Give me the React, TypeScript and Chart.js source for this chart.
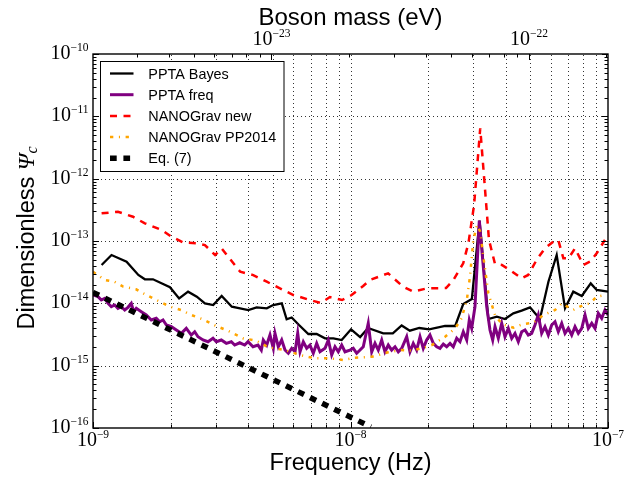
import { useEffect, useRef } from "react";
import { Chart, registerables } from "chart.js";

Chart.register(...registerables);

// ---------- data ----------
const seriesLabels = ["PPTA Bayes", "PPTA freq", "NANOGrav new", "NANOGrav PP2014", "Eq. (7)"];

const bayesFreq = [1.08e-9, 1.18e-9, 1.35e-9, 1.5e-9, 1.59e-9, 1.71e-9, 1.99e-9, 2.16e-9, 2.34e-9, 2.53e-9,
  2.72e-9, 2.93e-9, 3.16e-9, 3.46e-9, 4.01e-9, 4.32e-9, 4.73e-9, 5.01e-9, 5.41e-9, 5.65e-9,
  5.91e-9, 6.31e-9, 6.86e-9, 7.39e-9, 7.96e-9, 8.58e-9, 9.24e-9, 1.005e-8, 1.09e-8, 1.17e-8,
  1.34e-8, 1.46e-8, 1.58e-8, 1.7e-8, 1.85e-8, 2.02e-8, 2.33e-8, 2.55e-8, 2.74e-8, 2.96e-8,
  3.17e-8, 3.43e-8, 3.7e-8, 3.98e-8, 4.29e-8, 4.62e-8, 4.98e-8, 5.44e-8, 5.87e-8, 6.32e-8,
  6.81e-8, 7.33e-8, 7.91e-8, 8.57e-8, 9.04e-8, 1.0e-7];
const bayesPsi = [4.12e-14, 5.96e-14, 4.66e-14, 2.85e-14, 2.43e-14, 2.43e-14, 1.81e-14, 1.2e-14, 1.54e-14, 1.28e-14,
  1.0e-14, 9.4e-15, 1.31e-14, 8.83e-15, 7.81e-15, 8.63e-15, 8.32e-15, 9.4e-15, 1.0e-14, 5.54e-15,
  5.92e-15, 4.49e-15, 3.22e-15, 3.22e-15, 2.75e-15, 2.75e-15, 2.58e-15, 3.83e-15, 2.88e-15, 4.02e-15,
  3.3e-15, 3.3e-15, 4.41e-15, 3.64e-15, 4.02e-15, 3.83e-15, 4.33e-15, 4.33e-15, 9.75e-15, 1.17e-14,
  2.12e-13, 5.6e-15, 6.1e-15, 5.6e-15, 6.92e-15, 7.62e-15, 8.63e-15, 5.6e-15, 2.22e-14, 5.96e-14,
  8.32e-15, 1.54e-14, 1.31e-14, 2.09e-14, 1.64e-14, 1.54e-14];

const freqFreq = [1.0e-9, 1.046e-9, 1.077e-9, 1.11e-9, 1.144e-9, 1.178e-9, 1.214e-9, 1.25e-9, 1.288e-9, 1.328e-9,
  1.367e-9, 1.408e-9, 1.439e-9, 1.473e-9, 1.54e-9, 1.61e-9, 1.684e-9, 1.761e-9, 1.816e-9, 1.87e-9,
  1.927e-9, 2.015e-9, 2.107e-9, 2.203e-9, 2.303e-9, 2.408e-9, 2.483e-9, 2.557e-9, 2.674e-9, 2.797e-9,
  2.924e-9, 3.012e-9, 3.15e-9, 3.294e-9, 3.444e-9, 3.55e-9, 3.713e-9, 3.882e-9, 4.0e-9, 4.182e-9,
  4.373e-9, 4.504e-9, 4.585e-9, 4.727e-9, 4.868e-9, 5.014e-9, 5.09e-9, 5.243e-9, 5.405e-9, 5.567e-9,
  5.734e-9, 5.912e-9, 6.09e-9, 6.237e-9, 6.367e-9, 6.557e-9, 6.759e-9, 6.961e-9, 7.17e-9, 7.391e-9,
  7.612e-9, 7.962e-9, 8.2e-9, 8.453e-9, 8.707e-9, 8.967e-9, 9.244e-9, 9.52e-9, 9.954e-9, 1.025e-8,
  1.057e-8, 1.089e-8, 1.121e-8, 1.172e-8, 1.209e-8, 1.245e-8, 1.282e-8, 1.322e-8, 1.361e-8, 1.402e-8,
  1.445e-8, 1.489e-8, 1.533e-8, 1.581e-8, 1.653e-8, 1.702e-8, 1.753e-8, 1.807e-8, 1.862e-8, 1.917e-8,
  1.976e-8, 2.035e-8, 2.097e-8, 2.162e-8, 2.226e-8, 2.293e-8, 2.363e-8, 2.435e-8, 2.507e-8, 2.585e-8,
  2.662e-8, 2.742e-8, 2.827e-8, 2.893e-8, 2.956e-8, 3.044e-8, 3.164e-8, 3.279e-8, 3.38e-8, 3.481e-8,
  3.566e-8, 3.641e-8, 3.75e-8, 3.866e-8, 3.981e-8, 4.1e-8, 4.227e-8, 4.353e-8, 4.484e-8, 4.622e-8,
  4.76e-8, 4.902e-8, 5.054e-8, 5.205e-8, 5.36e-8, 5.526e-8, 5.692e-8, 5.863e-8, 6.044e-8, 6.225e-8,
  6.412e-8, 6.61e-8, 6.808e-8, 7.012e-8, 7.228e-8, 7.445e-8, 7.669e-8, 7.906e-8, 8.143e-8, 8.387e-8,
  8.646e-8, 8.905e-8, 9.17e-8, 9.452e-8, 9.734e-8, 1.0e-7];
const freqPsi = [1.36e-14, 1.28e-14, 1.13e-14, 1.2e-14, 1.0e-14, 8.83e-15, 9.4e-15, 8.32e-15, 8.83e-15, 7.81e-15,
  8.63e-15, 1.0e-14, 7.34e-15, 8.32e-15, 7.34e-15, 6.5e-15, 5.4e-15, 5.75e-15, 5.07e-15, 5.4e-15,
  4.49e-15, 4.22e-15, 3.73e-15, 3.3e-15, 3.97e-15, 3.1e-15, 3.5e-15, 2.91e-15, 2.58e-15, 2.42e-15,
  2.75e-15, 2.42e-15, 2.58e-15, 2.28e-15, 2.42e-15, 2.14e-15, 2.33e-15, 2.14e-15, 2.42e-15, 2.01e-15,
  2.14e-15, 1.78e-15, 2.58e-15, 2.14e-15, 3.1e-15, 1.9e-15, 3.3e-15, 2.01e-15, 2.58e-15, 1.78e-15,
  1.58e-15, 1.9e-15, 1.67e-15, 3.3e-15, 1.67e-15, 2.42e-15, 1.9e-15, 2.14e-15, 1.58e-15, 2.28e-15,
  1.67e-15, 1.9e-15, 2.58e-15, 1.48e-15, 2.01e-15, 1.67e-15, 2.14e-15, 1.67e-15, 1.78e-15, 1.9e-15,
  1.58e-15, 1.78e-15, 2.01e-15, 4.78e-15, 1.67e-15, 2.28e-15, 1.78e-15, 2.58e-15, 1.67e-15, 2.14e-15,
  1.78e-15, 2.01e-15, 1.67e-15, 1.9e-15, 2.91e-15, 1.67e-15, 2.28e-15, 1.78e-15, 2.91e-15, 1.9e-15,
  2.58e-15, 3.1e-15, 2.28e-15, 2.01e-15, 1.9e-15, 2.22e-15, 2.01e-15, 2.28e-15, 2.01e-15, 2.75e-15,
  2.42e-15, 3.5e-15, 2.58e-15, 5.4e-15, 3.97e-15, 8.83e-15, 2.12e-13, 3.87e-14, 8.83e-15, 3.73e-15,
  2.58e-15, 4.22e-15, 2.75e-15, 4.78e-15, 2.91e-15, 3.97e-15, 2.75e-15, 3.3e-15, 2.42e-15, 3.5e-15,
  3.73e-15, 3.1e-15, 3.3e-15, 4.49e-15, 6.5e-15, 3.3e-15, 4.22e-15, 3.1e-15, 4.49e-15, 5.07e-15,
  3.5e-15, 4.78e-15, 3.3e-15, 3.97e-15, 3.1e-15, 4.22e-15, 3.3e-15, 3.97e-15, 6.5e-15, 3.97e-15,
  4.78e-15, 3.97e-15, 6.92e-15, 5.75e-15, 7.81e-15, 6.5e-15];

const nanoNewFreq = [1.08e-9, 1.25e-9, 1.43e-9, 1.59e-9, 1.85e-9, 2.02e-9, 2.24e-9, 2.53e-9, 2.72e-9, 2.98e-9,
  3.16e-9, 3.51e-9, 3.73e-9, 4.19e-9, 4.73e-9, 5.32e-9, 6.0e-9, 6.96e-9, 7.68e-9, 8.32e-9,
  9.27e-9, 1.01e-8, 1.12e-8, 1.19e-8, 1.4e-8, 1.6e-8, 1.75e-8, 1.98e-8, 2.35e-8, 2.51e-8,
  2.74e-8, 2.87e-8, 3.02e-8, 3.19e-8, 3.45e-8, 3.64e-8, 3.87e-8, 4.16e-8, 4.62e-8, 4.9e-8,
  5.28e-8, 5.69e-8, 6.13e-8, 6.41e-8, 6.71e-8, 7.02e-8, 7.45e-8, 8.02e-8, 8.51e-8, 9.04e-8, 9.73e-8];
const nanoNewPsi = [2.78e-13, 2.95e-13, 2.45e-13, 1.92e-13, 1.5e-13, 1.17e-13, 9.5e-14, 9.2e-14, 8.6e-14, 5.96e-14,
  7.6e-14, 4.38e-14, 3.21e-14, 2.84e-14, 2.22e-14, 1.74e-14, 1.36e-14, 1.13e-14, 1.01e-14, 1.26e-14,
  1.13e-14, 1.36e-14, 1.9e-14, 2.37e-14, 3.03e-14, 1.85e-14, 1.54e-14, 1.74e-14, 1.76e-14, 2.37e-14,
  4.39e-14, 9.2e-14, 3.78e-13, 6.43e-12, 1.04e-13, 4.28e-14, 4.12e-14, 3.43e-14, 2.52e-14, 2.85e-14,
  4.96e-14, 7.64e-14, 9.75e-14, 1.04e-13, 5.27e-14, 5.27e-14, 7.64e-14, 4.12e-14, 4.66e-14, 6.35e-14, 1.04e-13];

const pp2014Freq = [1.0e-9, 1.11e-9, 1.21e-9, 1.31e-9, 1.47e-9, 1.61e-9, 1.82e-9, 1.99e-9, 2.2e-9, 2.41e-9,
  2.67e-9, 3.01e-9, 3.34e-9, 3.82e-9, 4.3e-9, 4.8e-9, 5.57e-9, 6.37e-9, 7.28e-9, 8.32e-9,
  9.37e-9, 1.04e-8, 1.21e-8, 1.4e-8, 1.56e-8, 1.73e-8, 1.89e-8, 2.07e-8, 2.33e-8, 2.55e-8,
  2.7e-8, 2.83e-8, 2.91e-8, 3.0e-8, 3.1e-8, 3.19e-8, 3.28e-8, 3.43e-8, 3.64e-8, 3.87e-8,
  4.29e-8, 4.69e-8, 5.13e-8, 5.61e-8, 6.23e-8, 6.61e-8, 7.33e-8, 8.02e-8, 8.51e-8, 9.04e-8, 9.73e-8];
const pp2014Psi = [3.21e-14, 2.37e-14, 2.22e-14, 1.85e-14, 1.68e-14, 1.36e-14, 1.06e-14, 8.83e-15, 7.81e-15, 6.5e-15,
  5.54e-15, 4.33e-15, 3.64e-15, 2.75e-15, 2.53e-15, 1.97e-15, 1.78e-15, 1.48e-15, 1.31e-15, 1.31e-15,
  1.23e-15, 1.34e-15, 1.39e-15, 1.64e-15, 1.78e-15, 1.74e-15, 1.9e-15, 2.14e-15, 2.91e-15, 3.97e-15,
  5.75e-15, 1.13e-14, 2.67e-14, 1.04e-13, 1.81e-13, 1.41e-13, 5.6e-14, 1.45e-14, 6.5e-15, 4.66e-15,
  4.06e-15, 4.66e-15, 4.89e-15, 6.5e-15, 7.81e-15, 1.0e-14, 7.81e-15, 9.4e-15, 1.0e-14, 1.28e-14, 1.36e-14];

const eq7Freq = [1.0e-9, 1.2e-8];
const eq7Psi = [1.5e-14, 1.04e-16];

// axes
const freqMin = 1e-9;
const freqMax = 1e-7;
const psiMin = 1e-16;
const psiMax = 1e-10;
const hzPerEv = 4.93e14; // f = hzPerEv * m
const freqMajorExps = [-9, -8, -7];
const psiMajorExps = [-16, -15, -14, -13, -12, -11, -10];
const massLabelExps = [-23, -22];
const minorMults = [2, 3, 4, 5, 6, 7, 8, 9];

const SANS = '"Liberation Sans", Arial, sans-serif';
const SERIF = '"Liberation Serif", "Times New Roman", serif';

function drawPow(ctx: CanvasRenderingContext2D, exp: number, ax: number, baseY: number, align: "center" | "right") {
  const base = "10";
  const sup = "\u2212" + Math.abs(exp);
  ctx.font = `20px ${SERIF}`;
  const wb = ctx.measureText(base).width;
  ctx.font = `11.5px ${SERIF}`;
  const ws = ctx.measureText(sup).width;
  const total = wb + ws;
  const x0 = align === "center" ? ax - total / 2 : ax - total;
  ctx.textAlign = "left";
  ctx.textBaseline = "alphabetic";
  ctx.fillStyle = "#000";
  ctx.font = `20px ${SERIF}`;
  ctx.fillText(base, x0, baseY);
  ctx.font = `11.5px ${SERIF}`;
  ctx.fillText(sup, x0 + wb, baseY - 8);
}

const decorPlugin = {
  id: "decor",
  beforeDatasetsDraw(chart: any) {
    const { ctx, chartArea: a, scales } = chart;
    const xs = scales.x;
    const ys = scales.y;
    ctx.save();
    ctx.strokeStyle = "#000";
    ctx.lineWidth = 0.8;
    ctx.setLineDash([1, 3]);
    for (const e of freqMajorExps) {
      for (const m of [1, ...minorMults]) {
        const v = m * Math.pow(10, e);
        if (v <= freqMin * 1.0001 || v >= freqMax * 0.9999) continue;
        const px = Math.round(xs.getPixelForValue(v)) + 0.5;
        ctx.beginPath();
        ctx.moveTo(px, a.bottom);
        ctx.lineTo(px, a.top);
        ctx.stroke();
      }
    }
    for (const e of psiMajorExps) {
      const v = Math.pow(10, e);
      if (v <= psiMin * 1.0001 || v >= psiMax * 0.9999) continue;
      const py = Math.round(ys.getPixelForValue(v)) + 0.5;
      ctx.beginPath();
      ctx.moveTo(a.left, py);
      ctx.lineTo(a.right, py);
      ctx.stroke();
    }
    ctx.restore();
  },
  afterDraw(chart: any) {
    const { ctx, chartArea: a, scales } = chart;
    const xs = scales.x;
    const ys = scales.y;
    const x2 = scales.x2;
    ctx.save();
    ctx.setLineDash([]);
    ctx.strokeStyle = "#000";
    ctx.lineWidth = 1;
    const majorLen = 6;
    const minorLen = 3.5;
    // y ticks left and right
    for (const e of psiMajorExps) {
      for (const m of [1, ...minorMults]) {
        const v = m * Math.pow(10, e);
        if (v < psiMin * 0.9999 || v > psiMax * 1.0001) continue;
        const py = Math.round(ys.getPixelForValue(v)) + 0.5;
        const len = m === 1 ? majorLen : minorLen;
        ctx.beginPath();
        ctx.moveTo(a.left, py);
        ctx.lineTo(a.left + len, py);
        ctx.moveTo(a.right, py);
        ctx.lineTo(a.right - len, py);
        ctx.stroke();
      }
    }
    // bottom ticks (frequency)
    for (const e of freqMajorExps) {
      for (const m of [1, ...minorMults]) {
        const v = m * Math.pow(10, e);
        if (v < freqMin * 0.9999 || v > freqMax * 1.0001) continue;
        const px = Math.round(xs.getPixelForValue(v)) + 0.5;
        const len = m === 1 ? majorLen : minorLen;
        ctx.beginPath();
        ctx.moveTo(px, a.bottom);
        ctx.lineTo(px, a.bottom - len);
        ctx.stroke();
      }
    }
    // top ticks (boson mass)
    const mMin = freqMin / hzPerEv;
    const mMax = freqMax / hzPerEv;
    for (const e of [-24, -23, -22]) {
      for (const m of [1, ...minorMults]) {
        const v = m * Math.pow(10, e);
        if (v < mMin || v > mMax) continue;
        const px = Math.round(x2.getPixelForValue(v)) + 0.5;
        const len = m === 1 ? majorLen : minorLen;
        ctx.beginPath();
        ctx.moveTo(px, a.top);
        ctx.lineTo(px, a.top + len);
        ctx.stroke();
      }
    }
    // frame
    ctx.lineWidth = 1.4;
    ctx.strokeRect(a.left, a.top, a.right - a.left, a.bottom - a.top);

    // tick labels
    for (const e of psiMajorExps) {
      const py = ys.getPixelForValue(Math.pow(10, e));
      drawPow(ctx, e, a.left - 4.5, py + 5, "right");
    }
    for (const e of freqMajorExps) {
      const px = xs.getPixelForValue(Math.pow(10, e));
      drawPow(ctx, e, px, a.bottom + 18, "center");
    }
    for (const e of massLabelExps) {
      const px = x2.getPixelForValue(Math.pow(10, e));
      drawPow(ctx, e, px, a.top - 9, "center");
    }

    // axis titles
    const cx = (a.left + a.right) / 2;
    ctx.fillStyle = "#000";
    ctx.textAlign = "center";
    ctx.textBaseline = "alphabetic";
    ctx.font = `23.5px ${SANS}`;
    ctx.fillText("Frequency (Hz)", cx, a.bottom + 42);
    ctx.font = `24px ${SANS}`;
    ctx.fillText("Boson mass (eV)", cx, 25);

    // y title (rotated)
    ctx.save();
    ctx.translate(33.5, 238);
    ctx.rotate(-Math.PI / 2);
    ctx.textAlign = "left";
    ctx.font = `23.5px ${SANS}`;
    const t1 = "Dimensionless ";
    const w1 = ctx.measureText(t1).width;
    ctx.font = `italic 23.5px ${SERIF}`;
    const w2 = ctx.measureText("\u03A8").width;
    ctx.font = `italic 16px ${SERIF}`;
    const w3 = ctx.measureText("c").width;
    let tx = -(w1 + w2 + w3) / 2;
    ctx.font = `23.5px ${SANS}`;
    ctx.fillText(t1, tx, 0);
    tx += w1;
    ctx.font = `italic 23.5px ${SERIF}`;
    ctx.fillText("\u03A8", tx, 0);
    tx += w2;
    ctx.font = `italic 16px ${SERIF}`;
    ctx.fillText("c", tx, 3.5);
    ctx.restore();

    // legend
    const lx = 100.5;
    const ly = 61.5;
    const lw = 183.5;
    const lh = 110;
    ctx.fillStyle = "#fff";
    ctx.fillRect(lx, ly, lw, lh);
    ctx.strokeStyle = "#000";
    ctx.lineWidth = 1;
    ctx.strokeRect(lx, ly, lw, lh);
    const datasets = chart.data.datasets;
    datasets.forEach((ds: any, i: number) => {
      const cy = 73.5 + i * 21.2;
      ctx.save();
      ctx.strokeStyle = ds.borderColor;
      ctx.lineWidth = ds.borderWidth;
      ctx.setLineDash(ds.borderDash || []);
      ctx.lineCap = "butt";
      ctx.beginPath();
      ctx.moveTo(110, cy);
      ctx.lineTo(133.5, cy);
      ctx.stroke();
      ctx.restore();
      ctx.fillStyle = "#000";
      ctx.textAlign = "left";
      ctx.textBaseline = "alphabetic";
      ctx.font = `14.4px ${SANS}`;
      ctx.fillText(ds.label, 148.3, cy + 5);
    });
    ctx.restore();
  },
};

function toPoints(fs: number[], ps: number[]) {
  return fs.map((f, i) => ({ x: f, y: ps[i] }));
}

export default function App() {
  const ref = useRef<HTMLCanvasElement>(null);
  useEffect(() => {
    document.body.style.margin = "0";
    const canvas = ref.current;
    if (!canvas) return;
    const chart = new Chart(canvas, {
      type: "line",
      data: {
        datasets: [
          { label: seriesLabels[0], data: toPoints(bayesFreq, bayesPsi), borderColor: "#000000", borderWidth: 2.3, order: 5 },
          { label: seriesLabels[1], data: toPoints(freqFreq, freqPsi), borderColor: "#800080", borderWidth: 3, order: 4 },
          { label: seriesLabels[2], data: toPoints(nanoNewFreq, nanoNewPsi), borderColor: "#ff0000", borderWidth: 2.5, borderDash: [7, 6.5], order: 3 },
          { label: seriesLabels[3], data: toPoints(pp2014Freq, pp2014Psi), borderColor: "#ffa500", borderWidth: 2.5, borderDash: [3.3, 5.6, 1.1, 5.6], order: 2 },
          { label: seriesLabels[4], data: toPoints(eq7Freq, eq7Psi), borderColor: "#000000", borderWidth: 5.5, borderDash: [6.7, 6.7], order: 1 },
        ] as any,
      },
      options: {
        animation: false,
        responsive: true,
        maintainAspectRatio: false,
        layout: { padding: { left: 93, right: 30, top: 54, bottom: 52 } },
        elements: { point: { radius: 0, hoverRadius: 0 }, line: { tension: 0, fill: false } },
        plugins: { legend: { display: false }, tooltip: { enabled: false } },
        events: [],
        scales: {
          x: {
            type: "logarithmic",
            position: "bottom",
            min: freqMin,
            max: freqMax,
            ticks: { display: false },
            grid: { display: false, drawTicks: false },
            border: { display: false },
            afterFit: (s: any) => { s.height = 0; },
          },
          x2: {
            type: "logarithmic",
            position: "top",
            min: freqMin / hzPerEv,
            max: freqMax / hzPerEv,
            ticks: { display: false },
            grid: { display: false, drawTicks: false },
            border: { display: false },
            afterFit: (s: any) => { s.height = 0; },
          },
          y: {
            type: "logarithmic",
            position: "left",
            min: psiMin,
            max: psiMax,
            ticks: { display: false },
            grid: { display: false, drawTicks: false },
            border: { display: false },
            afterFit: (s: any) => { s.width = 0; },
          },
        } as any,
      },
      plugins: [decorPlugin],
    });
    return () => chart.destroy();
  }, []);
  return (
    <div style={{ width: 638, height: 480, position: "relative" }}>
      <canvas ref={ref} />
    </div>
  );
}
